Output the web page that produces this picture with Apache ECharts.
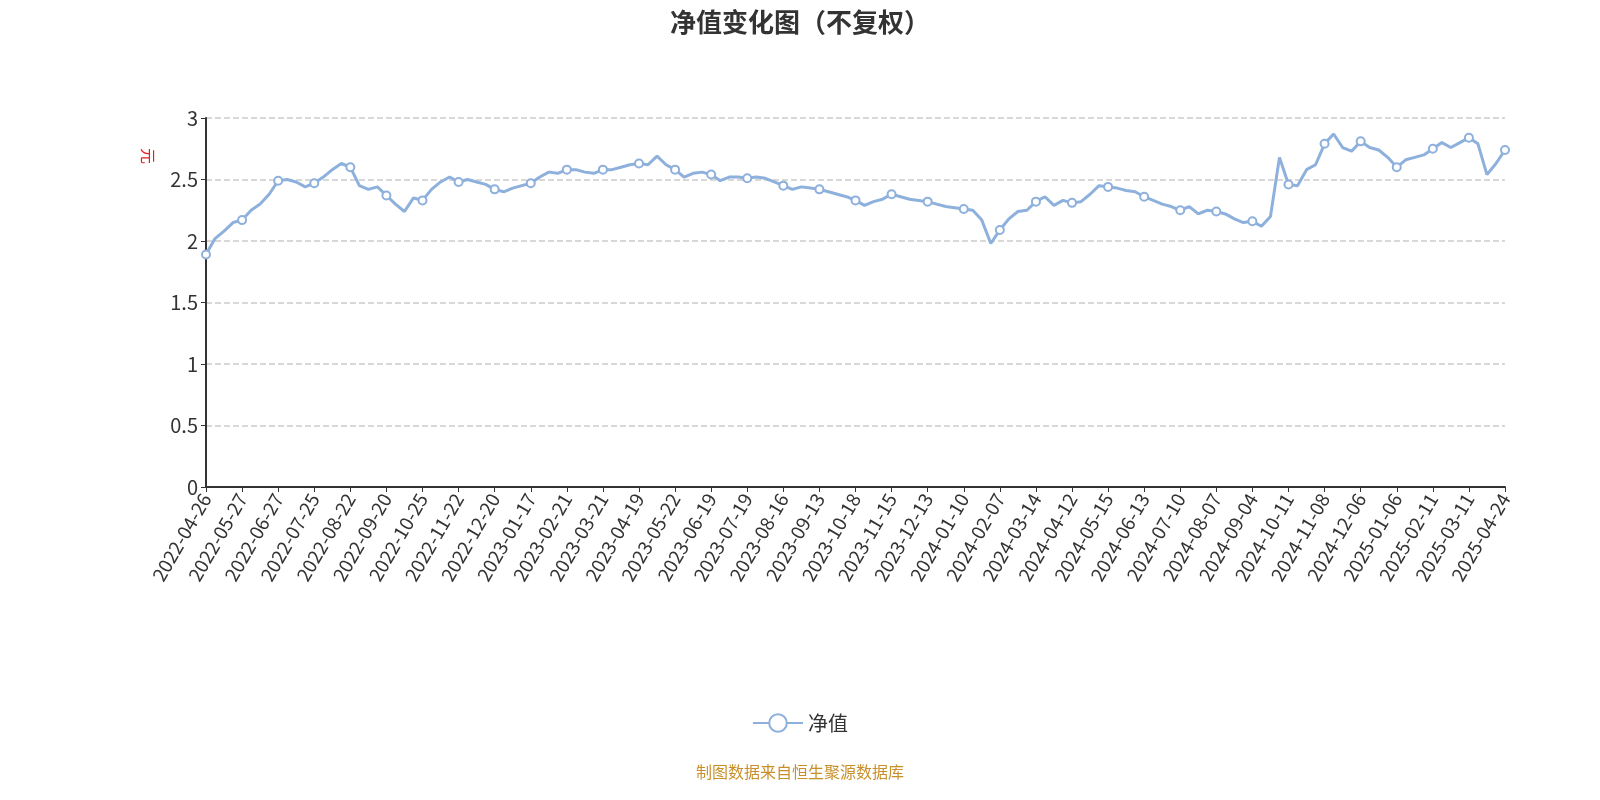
<!DOCTYPE html>
<html><head><meta charset="utf-8">
<script src="https://cdn.jsdelivr.net/npm/echarts@6/dist/echarts.min.js"></script>
<style>body{margin:0}#c{width:1600px;height:800px}</style>
</head><body><div id="c"></div>
<script>
// 刻度日期（每4个点一个标签）
var labelDates = ['2022-04-26','2022-05-27','2022-06-27','2022-07-25','2022-08-22','2022-09-20','2022-10-25','2022-11-22','2022-12-20',
  '2023-01-17','2023-02-21','2023-03-21','2023-04-19','2023-05-22','2023-06-19','2023-07-19','2023-08-16','2023-09-13','2023-10-18','2023-11-15','2023-12-13',
  '2024-01-10','2024-02-07','2024-03-14','2024-04-12','2024-05-15','2024-06-13','2024-07-10','2024-08-07','2024-09-04','2024-10-11','2024-11-08','2024-12-06',
  '2025-01-06','2025-02-11','2025-03-11','2025-04-24'];
// 净值（估读）
var navValues = [
  1.89, 2.02, 2.08, 2.15,
  2.17, 2.25, 2.30, 2.38,
  2.49, 2.50, 2.48, 2.44,
  2.47, 2.52, 2.58, 2.63,
  2.60, 2.45, 2.42, 2.44,
  2.37, 2.30, 2.24, 2.35,
  2.33, 2.42, 2.48, 2.52,
  2.48, 2.50, 2.48, 2.46,
  2.42, 2.40, 2.43, 2.45,
  2.47, 2.52, 2.56, 2.55,
  2.58, 2.58, 2.56, 2.55,
  2.58, 2.58, 2.60, 2.62,
  2.63, 2.62, 2.69, 2.62,
  2.58, 2.52, 2.55, 2.56,
  2.54, 2.49, 2.52, 2.52,
  2.51, 2.52, 2.51, 2.48,
  2.45, 2.42, 2.44, 2.43,
  2.42, 2.40, 2.38, 2.36,
  2.33, 2.29, 2.32, 2.34,
  2.38, 2.36, 2.34, 2.33,
  2.32, 2.30, 2.28, 2.27,
  2.26, 2.25, 2.17, 1.98,
  2.09, 2.18, 2.24, 2.25,
  2.32, 2.36, 2.29, 2.33,
  2.31, 2.32, 2.38, 2.45,
  2.44, 2.43, 2.41, 2.40,
  2.36, 2.33, 2.30, 2.28,
  2.25, 2.28, 2.22, 2.25,
  2.24, 2.22, 2.18, 2.15,
  2.16, 2.12, 2.20, 2.68,
  2.46, 2.45, 2.58, 2.62,
  2.79, 2.87, 2.76, 2.73,
  2.81, 2.76, 2.74, 2.68,
  2.60, 2.66, 2.68, 2.70,
  2.75, 2.80, 2.76, 2.80,
  2.84, 2.79, 2.54, 2.63,
  2.74
];
var markedExtra = [146];

var cats = [];
labelDates.forEach(function(d, i) {
  cats.push(d);
  if (i < labelDates.length - 1) for (var k = 1; k < 4; k++) cats.push(d + '#' + k);
});

var chart = echarts.init(document.getElementById('c'));
chart.setOption({
  animation: false,
  textStyle: {fontFamily: '"Noto Sans CJK SC", "Noto Sans", sans-serif'},
  title: {text: '净值变化图（不复权）', left: 'center', top: 4,
    textStyle: {fontSize: 26, fontWeight: 'bold', color: '#333'}},
  grid: {left: 206, right: 95, top: 118, bottom: 313},
  legend: {bottom: 62, itemWidth: 50, itemHeight: 22, itemGap: 10,
    textStyle: {fontSize: 20, color: '#333'}, data: ['净值']},
  graphic: [
    {type: 'text', left: 'center', top: 764, style: {text: '制图数据来自恒生聚源数据库', fill: '#c8902a', font: '16px "Noto Sans CJK SC", sans-serif'}},
    {type: 'text', x: 156, y: 148, rotation: -Math.PI / 2, style: {text: '元', fill: '#e02020', font: '16px "Noto Sans CJK SC", sans-serif'}}
  ],
  xAxis: {type: 'category', data: cats, boundaryGap: false,
    axisLine: {lineStyle: {color: '#333', width: 2}},
    axisTick: {interval: 3, alignWithLabel: true, lineStyle: {color: '#333'}},
    axisLabel: {interval: 3, rotate: 60, fontSize: 19, color: '#333', margin: 8}},
  yAxis: {type: 'value', min: 0, max: 3, interval: 0.5,
    axisLine: {show: true, lineStyle: {color: '#333', width: 2}},
    axisTick: {show: true, lineStyle: {color: '#333'}},
    axisLabel: {fontSize: 20, color: '#333'},
    splitLine: {lineStyle: {type: 'dashed', color: '#ccc', width: 1.5}}},
  series: [{
    name: '净值', type: 'line', data: navValues,
    symbol: 'emptyCircle', showAllSymbol: true,
    symbolSize: function(v, p) { return (p && (p.dataIndex % 4 === 0 || markedExtra.indexOf(p.dataIndex) >= 0)) ? 8 : 0; },
    lineStyle: {color: '#8eb0dc', width: 3},
    itemStyle: {color: '#8eb0dc', borderWidth: 1.5}
  }]
});
</script></body></html>
